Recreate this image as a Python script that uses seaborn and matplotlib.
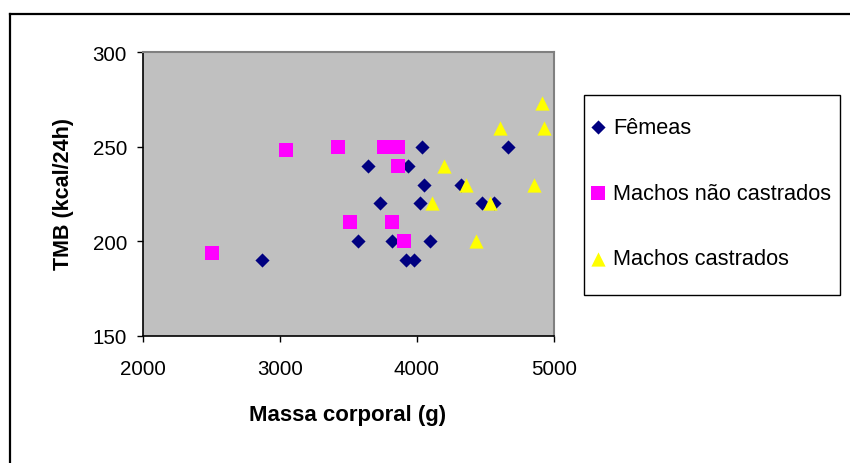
import pandas as pd
import numpy as np
import matplotlib.pyplot as plt
import matplotlib.lines as mlines
import matplotlib.patches as mpatches
import seaborn as sns

# Dados
femeas_massa = [2866, 3567, 3640, 3728, 3815, 3918, 3936, 3978, 4022, 4034, 4051, 4095, 4319, 4472, 4562, 4662]
femeas_tmb = [190, 200, 240, 220, 200, 190, 240, 190, 220, 250, 230, 200, 230, 220, 220, 250]

nao_castrados_massa = [2501, 3042, 3421, 3509, 3757, 3861, 3861, 3818, 3905]
nao_castrados_tmb = [194, 248, 250, 210, 250, 250, 240, 210, 200]

castrados_massa = [4109, 4197, 4358, 4431, 4533, 4606, 4852, 4912, 4927]
castrados_tmb = [220, 240, 230, 200, 220, 260, 230, 273, 260]

grupos = ["Fêmeas", "Machos não castrados", "Machos castrados"]
x_ticks = [2000, 3000, 4000, 5000]
y_ticks = [150, 200, 250, 300]

df = pd.concat([
    pd.DataFrame({"massa": femeas_massa, "tmb": femeas_tmb, "grupo": grupos[0]}),
    pd.DataFrame({"massa": nao_castrados_massa, "tmb": nao_castrados_tmb, "grupo": grupos[1]}),
    pd.DataFrame({"massa": castrados_massa, "tmb": castrados_tmb, "grupo": grupos[2]}),
])

plt.rcParams['font.family'] = ['Liberation Sans', 'DejaVu Sans']

fig = plt.figure(figsize=(8.5, 4.64), dpi=100)
ax = fig.add_axes([143 / 850, 1 - 337 / 464, 411 / 850, 284 / 464])
ax.set_facecolor("#C0C0C0")

estilo = {
    grupos[0]: dict(marker="D", color="#000080", s=52),
    grupos[1]: dict(marker="s", color="#FF00FF", s=100),
    grupos[2]: dict(marker="^", color="#FFFF00", s=105),
}
for g in grupos:
    sub = df[df["grupo"] == g]
    sns.scatterplot(data=sub, x="massa", y="tmb", ax=ax, label=g,
                    marker=estilo[g]["marker"], color=estilo[g]["color"],
                    s=estilo[g]["s"], linewidth=0, zorder=3)

ax.set_xlim(2000, 5000)
ax.set_ylim(150, 300)
ax.set_xticks(x_ticks)
ax.set_yticks(y_ticks)
ax.tick_params(axis="both", direction="out", length=4.5, width=1, colors="black", labelsize=14.8)
ax.tick_params(axis="x", pad=12)
ax.tick_params(axis="y", pad=7)

for s in ["top", "right"]:
    ax.spines[s].set_color("#808080")
    ax.spines[s].set_linewidth(1.5)
for s in ["left", "bottom"]:
    ax.spines[s].set_color("black")
    ax.spines[s].set_linewidth(1.2)

ax.set_xlabel("")
ax.set_ylabel("")
fig.text(348 / 850, 1 - 416 / 464, "Massa corporal (g)", ha="center", va="center",
         fontsize=16, fontweight="bold")
fig.text(64 / 850, 1 - 194 / 464, "TMB (kcal/24h)", ha="center", va="center",
         rotation=90, fontsize=15.5, fontweight="bold")

# legenda
handles, labels = ax.get_legend_handles_labels()
ax.legend(handles, labels, loc="upper left", bbox_to_anchor=(589 / 850, 1 - 118 / 464),
          bbox_transform=fig.transFigure, frameon=False, borderpad=0, borderaxespad=0,
          labelspacing=2.05, handlelength=0.8, handletextpad=0.3, fontsize=15.7)
fig.add_artist(mpatches.Rectangle((584 / 850, 1 - 296 / 464), 256 / 850, 200 / 464,
                                  transform=fig.transFigure, fill=False,
                                  edgecolor="black", linewidth=1))

# borda da área do gráfico
fig.add_artist(mlines.Line2D([9.5 / 850, 1.01], [1 - 14.5 / 464, 1 - 14.5 / 464],
                             transform=fig.transFigure, color="black", linewidth=1.6))
fig.add_artist(mlines.Line2D([9.5 / 850, 9.5 / 850], [1 - 14.5 / 464, -0.01],
                             transform=fig.transFigure, color="black", linewidth=1.6))

fig.savefig("out.png", dpi=100)
